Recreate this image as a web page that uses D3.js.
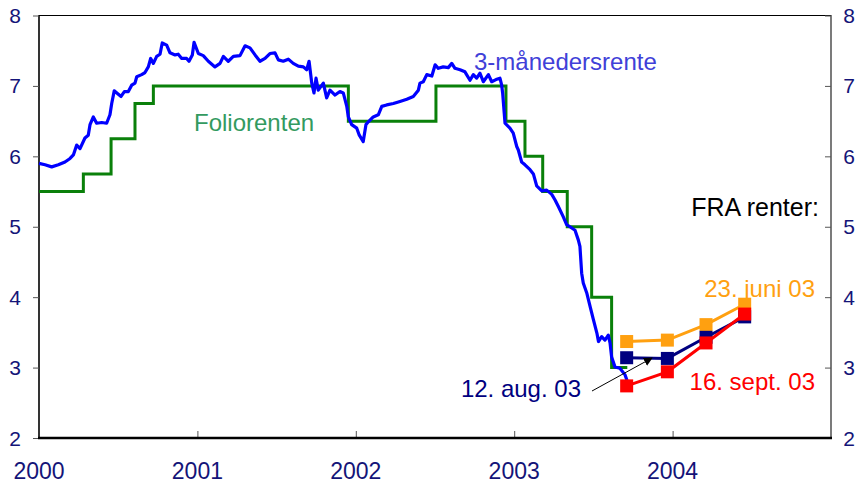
<!DOCTYPE html>
<html>
<head>
<meta charset="utf-8">
<script src="https://cdn.jsdelivr.net/npm/d3@7"></script>
<style>
  body { margin:0; background:#fff; }
  svg text { font-family: Arial, "Liberation Sans", sans-serif; }
</style>
</head>
<body>
<svg id="chart" width="866" height="487"></svg>
<script>
// 3-month rate (decimal year, percent)
const niborT = [2000.000,2000.038,2000.080,2000.122,2000.164,2000.196,2000.217,2000.238,2000.259,2000.290,
  2000.311,2000.322,2000.343,2000.364,2000.396,2000.427,2000.448,2000.459,2000.475,2000.497,
  2000.518,2000.539,2000.564,2000.585,2000.606,2000.617,2000.648,2000.669,2000.690,2000.705,
  2000.722,2000.743,2000.764,2000.778,2000.806,2000.827,2000.859,2000.879,2000.901,2000.932,
  2000.947,2000.968,2000.979,2001.006,2001.037,2001.069,2001.111,2001.143,2001.164,2001.195,
  2001.227,2001.269,2001.301,2001.332,2001.364,2001.395,2001.427,2001.458,2001.490,2001.511,
  2001.542,2001.574,2001.605,2001.637,2001.669,2001.690,2001.705,2001.722,2001.736,2001.749,
  2001.763,2001.795,2001.816,2001.837,2001.869,2001.900,2001.921,2001.943,2001.953,2001.974,
  2002.006,2002.022,2002.047,2002.064,2002.079,2002.110,2002.142,2002.164,2002.195,2002.237,
  2002.279,2002.322,2002.363,2002.395,2002.405,2002.426,2002.448,2002.480,2002.501,2002.521,
  2002.552,2002.584,2002.606,2002.626,2002.658,2002.689,2002.721,2002.742,2002.763,2002.784,
  2002.805,2002.837,2002.858,2002.885,2002.910,2002.921,2002.927,2002.942,2002.973,2002.994,
  2003.016,2003.026,2003.047,2003.068,2003.100,2003.121,2003.142,2003.174,2003.205,2003.237,
  2003.258,2003.278,2003.310,2003.331,2003.352,2003.384,2003.405,2003.415,2003.426,2003.436,
  2003.458,2003.479,2003.500,2003.522,2003.532,2003.552,2003.573,2003.594,2003.605,2003.615,
  2003.636,2003.667,2003.699,2003.712];
const niborV = [5.90,5.88,5.85,5.88,5.92,5.97,6.02,6.16,6.11,6.26,
  6.30,6.45,6.56,6.47,6.48,6.47,6.59,6.75,6.93,6.89,
  6.85,6.92,6.92,7.01,7.04,7.13,7.16,7.19,7.27,7.39,
  7.32,7.42,7.45,7.61,7.58,7.47,7.44,7.45,7.39,7.39,
  7.35,7.44,7.62,7.46,7.43,7.35,7.27,7.32,7.42,7.35,
  7.42,7.43,7.57,7.54,7.44,7.35,7.39,7.46,7.47,7.37,
  7.35,7.38,7.32,7.28,7.27,7.23,7.35,7.04,6.90,7.11,
  6.94,7.04,6.83,6.94,6.87,6.92,6.90,6.71,6.56,6.45,
  6.40,6.30,6.21,6.45,6.49,6.56,6.59,6.71,6.73,6.75,
  6.78,6.81,6.85,6.94,7.04,7.06,7.16,7.14,7.30,7.25,
  7.27,7.26,7.32,7.25,7.23,7.20,7.08,7.16,7.11,7.18,
  7.06,7.16,7.06,7.09,7.11,7.01,6.90,6.47,6.40,6.33,
  6.14,6.09,5.92,5.88,5.81,5.75,5.58,5.51,5.52,5.46,
  5.38,5.29,5.14,5.03,5.00,4.95,4.81,4.72,4.34,4.20,
  4.06,3.87,3.68,3.49,3.37,3.44,3.39,3.46,3.35,3.15,
  3.01,2.99,2.90,2.82];

// folio rate: change dates and new level (last entry = end of series)
const folioT = [2000.000,2000.280,2000.455,2000.606,2000.722,2001.953,2002.506,2002.948,2003.068,2003.180,2003.335,2003.489,2003.615,2003.714];
const folioV = [5.50,5.75,6.25,6.75,7.00,6.50,7.00,6.50,6.00,5.50,5.00,4.00,3.00,3.00];

// FRA contracts (IMM dates)
const fraT = [2003.710,2003.967,2004.211,2004.455];
const fraJune = [3.37,3.39,3.61,3.90];
const fraAug  = [3.14,3.13,3.43,3.72];
const fraSept = [2.74,2.94,3.35,3.76];

const yTicks = [2,3,4,5,6,7,8];
const xTicks = [2000,2001,2002,2003,2004];

const svg = d3.select('#chart');
const x = d3.scaleLinear().domain([2000,2005]).range([39,831]);
const y = d3.scaleLinear().domain([2,8]).range([438,15.5]);

const tickCol = '#141478';

// frame
svg.append('line').attr('x1',39).attr('x2',831).attr('y1',15.5).attr('y2',15.5).attr('stroke','#000').attr('stroke-width',1);
svg.append('line').attr('x1',831).attr('x2',831).attr('y1',15).attr('y2',438).attr('stroke','#222').attr('stroke-width',1.2);
svg.append('line').attr('x1',39).attr('x2',39).attr('y1',15).attr('y2',439).attr('stroke','#000').attr('stroke-width',1.6);

// left axis: outward ticks
const yl = svg.append('g').attr('transform','translate(39,0)')
  .call(d3.axisLeft(y).tickValues(yTicks).tickSize(6).tickFormat(''));
yl.select('.domain').remove();
yl.selectAll('.tick line').attr('stroke','#555');

// right axis: inward ticks
const yr = svg.append('g').attr('transform','translate(831,0)')
  .call(d3.axisRight(y).tickValues(yTicks).tickSize(-6).tickFormat(''));
yr.select('.domain').remove();
yr.selectAll('.tick line').attr('stroke','#555');

// bottom axis: inward ticks
const xb = svg.append('g').attr('transform','translate(0,438)')
  .call(d3.axisBottom(x).tickValues(xTicks.slice(1)).tickSize(-7).tickFormat(''));
xb.select('.domain').remove();
xb.selectAll('.tick line').attr('stroke','#555');
svg.append('line').attr('x1',38).attr('x2',832).attr('y1',438).attr('y2',438).attr('stroke','#000').attr('stroke-width',2.5);

// tick labels
svg.selectAll('text.yl').data(yTicks).join('text').attr('class','yl')
  .attr('x',15).attr('y',d => y(d)+7.5).attr('text-anchor','middle')
  .attr('font-size',21).attr('fill',tickCol).text(d => d);
svg.selectAll('text.yr').data(yTicks).join('text').attr('class','yr')
  .attr('x',849).attr('y',d => y(d)+7.5).attr('text-anchor','middle')
  .attr('font-size',21).attr('fill',tickCol).text(d => d);
svg.selectAll('text.xl').data(xTicks).join('text').attr('class','xl')
  .attr('x',d => x(d)).attr('y',479).attr('text-anchor','middle')
  .attr('font-size',23).attr('fill',tickCol).text(d => d);

// lines
const folio = folioT.map((t,i) => [t, folioV[i]]);
svg.append('path').datum(folio)
  .attr('d', d3.line().x(d => x(d[0])).y(d => y(d[1])).curve(d3.curveStepAfter))
  .attr('fill','none').attr('stroke','#0a800a').attr('stroke-width',3);

const nibor = niborT.map((t,i) => [t, niborV[i]]);
svg.append('path').datum(nibor)
  .attr('d', d3.line().x(d => x(d[0])).y(d => y(d[1])))
  .attr('fill','none').attr('stroke','#0000ff').attr('stroke-width',3.2).attr('stroke-linejoin','round');

// FRA series
const fraSeries = [
  {vals: fraJune, col: '#ffa010'},
  {vals: fraAug,  col: '#000080'},
  {vals: fraSept, col: '#ff0000'}
];
fraSeries.forEach(s => {
  const pts = fraT.map((t,i) => [t, s.vals[i]]);
  const g = svg.append('g');
  g.append('path').datum(pts)
    .attr('d', d3.line().x(d => x(d[0])).y(d => y(d[1])))
    .attr('fill','none').attr('stroke',s.col).attr('stroke-width',3);
  g.selectAll('rect').data(pts).join('rect')
    .attr('x',d => x(d[0])-6.5).attr('y',d => y(d[1])-6.5)
    .attr('width',13).attr('height',13).attr('fill',s.col);
});

// labels
svg.append('text').attr('x',474).attr('y',70).attr('font-size',24).attr('fill','#4040d8').text('3-månedersrente');
svg.append('text').attr('x',194).attr('y',131).attr('font-size',24).attr('fill','#339a60').text('Foliorenten');
svg.append('text').attr('x',819).attr('y',216).attr('text-anchor','end').attr('font-size',25).attr('fill','#000').text('FRA renter:');
svg.append('text').attr('x',815).attr('y',297).attr('text-anchor','end').attr('font-size',24).attr('fill','#ffa010').text('23. juni 03');
svg.append('text').attr('x',815).attr('y',390).attr('text-anchor','end').attr('font-size',24).attr('fill','#ff0000').text('16. sept. 03');
svg.append('text').attr('x',581).attr('y',397).attr('text-anchor','end').attr('font-size',24).attr('fill','#000080').text('12. aug. 03');

// arrow to the 12 Aug curve
svg.append('defs').append('marker').attr('id','arr')
  .attr('viewBox','0 0 10 10').attr('refX',9).attr('refY',5)
  .attr('markerWidth',9).attr('markerHeight',9).attr('markerUnits','userSpaceOnUse')
  .attr('orient','auto')
  .append('path').attr('d','M0,0L10,5L0,10Z').attr('fill','#000');
svg.append('line').attr('x1',592).attr('y1',391).attr('x2',652).attr('y2',358)
  .attr('stroke','#000').attr('stroke-width',1).attr('marker-end','url(#arr)');
</script>
</body>
</html>
